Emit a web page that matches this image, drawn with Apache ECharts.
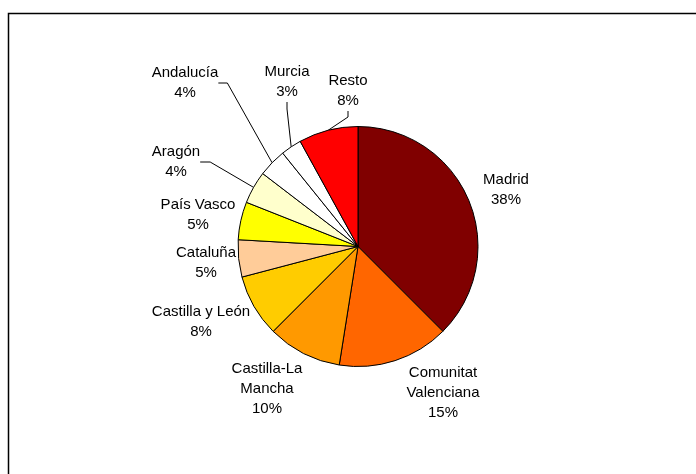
<!DOCTYPE html>
<html>
<head>
<meta charset="utf-8">
<script src="https://cdn.jsdelivr.net/npm/echarts@6/dist/echarts.min.js"></script>
<style>
html,body{margin:0;padding:0;background:#fff;}
#chart{width:696px;height:474px;}
</style>
</head>
<body>
<div id="chart"></div>
<script>
// Data
const categories = ['Madrid','Comunitat\nValenciana','Castilla-La\nMancha','Castilla y León','Cataluña','País Vasco','Aragón','Andalucía','Murcia','Resto'];
const values = [37.5, 15.0, 10.0, 8.4, 5.0, 5.1, 4.4, 3.8, 2.8, 8.0];

// Styles / layout (not data)
const sliceColors = ['#800000','#FF6600','#FF9900','#FFCC00','#FFCC99','#FFFF00','#FFFFCC','#FFFFFF','#FFFFFF','#FF0000'];
const labelCenters = [[506,190],[443,393],[267,389],[201,322],[206,263],[198,215],[176,162],[185,83],[287,82],[348,91]];
const leaderLen = [null,null,null,null,null,null,10,9,7,6];

const total = values.reduce((a,b)=>a+b,0);

const seriesData = categories.map((name,i)=>{
  const item = {
    name: name,
    value: values[i],
    itemStyle: {color: sliceColors[i]},
    labelLine: leaderLen[i] == null ? {show:false} : {show:true, length:5, length2: leaderLen[i]}
  };
  return item;
});

const chart = echarts.init(document.getElementById('chart'), null, {renderer:'canvas'});
chart.setOption({
  animation: false,
  backgroundColor: '#fff',
  graphic: [{
    type: 'rect',
    shape: {x: 8.5, y: 13.5, width: 720, height: 500},
    style: {fill: 'none', stroke: '#000', lineWidth: 1.5},
    silent: true
  }],
  series: [{
    type: 'pie',
    center: [358, 246.5],
    radius: 120,
    startAngle: 90,
    clockwise: true,
    avoidLabelOverlap: false,
    emphasis: {disabled: true},
    itemStyle: {borderColor: '#000', borderWidth: 1},
    label: {
      show: true,
      position: 'outside',
      color: '#000',
      fontFamily: 'Liberation Sans, Arial, sans-serif',
      fontSize: 15,
      lineHeight: 20,
      align: 'center',
      formatter: function(p){ return p.name + '\n' + Math.round(p.value / total * 100) + '%'; }
    },
    labelLine: {
      lineStyle: {color: '#000', width: 1},
      minTurnAngle: 0
    },
    labelLayout: function(params){
      const c = labelCenters[params.dataIndex];
      return {x: c[0], y: c[1], align: 'center', verticalAlign: 'middle'};
    },
    data: seriesData
  }]
});
</script>
</body>
</html>
